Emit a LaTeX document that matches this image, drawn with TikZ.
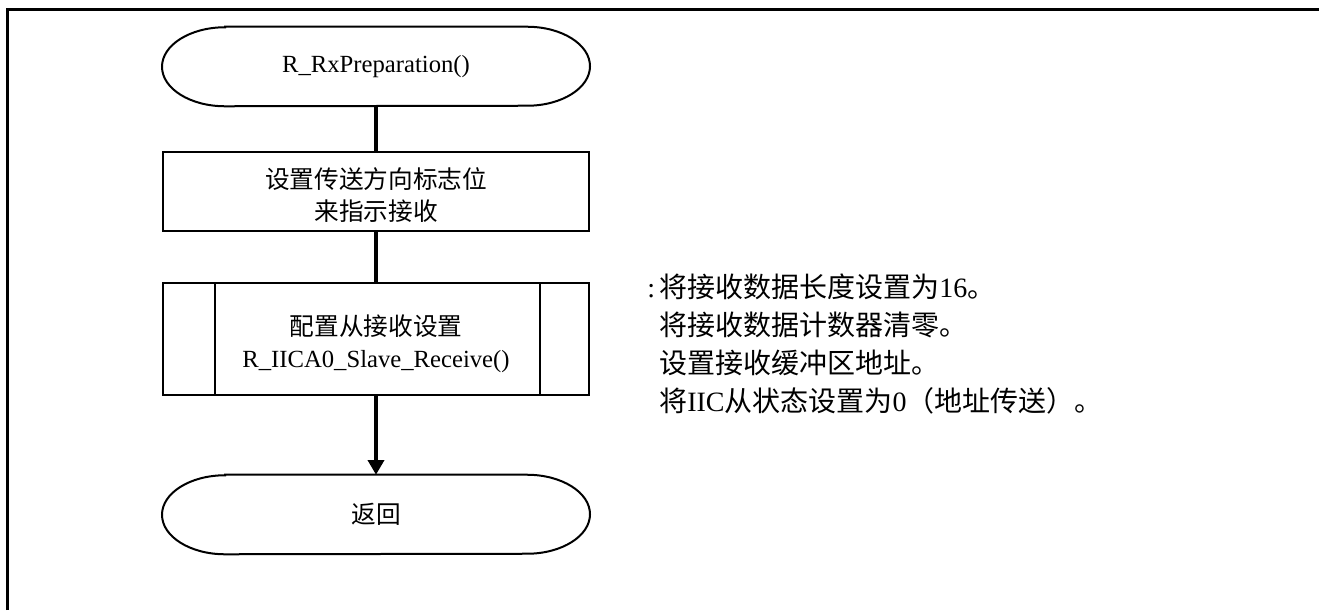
\documentclass[tikz,border=0pt]{standalone}
\usepackage{fontspec}
\setmainfont{Liberation Serif}
\newfontfamily\cjk{Noto Sans CJK SC}
\usetikzlibrary{arrows.meta,calc}
\begin{document}
\begin{tikzpicture}[x=0.75pt,y=-0.75pt,
  txt/.style={font=\fontsize{18.5}{25}\selectfont, align=center, inner sep=0pt},
  termline/.style={line width=1.5pt},
  term/.style={txt, minimum width=321pt, minimum height=59.25pt},
  procbox/.style={txt, draw, line width=1.5pt, minimum width=319.5pt, minimum height=59.25pt},
  subbox/.style={txt, draw, line width=1.5pt, minimum width=319.5pt, minimum height=84pt},
  flow/.style={line width=2.6pt},
  arrowflow/.style={flow, -{Triangle[width=12pt,length=11pt]}},
  note/.style={anchor=west, font=\fontsize{21}{25.5}\selectfont, align=left, inner sep=0pt},
  frame/.style={line width=2.25pt}
]
\useasboundingbox (0,0) rectangle (1319,610);
\draw[frame] (7,610) -- (7,10) -- (1319,10);

% start terminator
\node[term] (start) at (376,66.5) {R\_RxPreparation()};
\draw[termline] ($(start.north)+(-151,0)$) -- ($(start.north)+(151,0)$)
  arc[start angle=-90, end angle=90, x radius=63, y radius=39.5]
  -- ($(start.south)+(-151,0)$)
  arc[start angle=90, end angle=270, x radius=63, y radius=39.5] -- cycle;

% process box
\node[procbox] (setdir) at (376,191.5) {\rule{0pt}{21pt}{\cjk 设置传送方向标志位}\\[-1pt]{\cjk 来指示接收}};

% predefined process box
\node[subbox] (sub) at (376,339) {\rule{0pt}{22pt}{\cjk 配置从接收设置}\\[-1pt]R\_IICA0\_Slave\_Receive()};
\draw[line width=1.5pt] ($(sub.north west)+(53,0)$) -- ($(sub.south west)+(53,0)$);
\draw[line width=1.5pt] ($(sub.north east)+(-50,0)$) -- ($(sub.south east)+(-50,0)$);

% end terminator
\node[term] (stop) at (376,514.5) {{\cjk 返回}};
\draw[termline] ($(stop.north)+(-151,0)$) -- ($(stop.north)+(151,0)$)
  arc[start angle=-90, end angle=90, x radius=63, y radius=39.5]
  -- ($(stop.south)+(-151,0)$)
  arc[start angle=90, end angle=270, x radius=63, y radius=39.5] -- cycle;

% connectors
\draw[flow] (start) -- (setdir);
\draw[flow] (setdir) -- (sub);
\draw[arrowflow] (sub) -- (stop);

% annotation
\node[note] (notes) at (647,344) {\makebox[9pt][l]{:}{\cjk 将接收数据长度设置为}16{\cjk 。}\\[3pt]
\hspace*{9pt}{\cjk 将接收数据计数器清零。}\\[3pt]
\hspace*{9pt}{\cjk 设置接收缓冲区地址。}\\[3pt]
\hspace*{9pt}{\cjk 将}IIC{\cjk 从状态设置为}0{\cjk （地址传送）。}};
\end{tikzpicture}
\end{document}
